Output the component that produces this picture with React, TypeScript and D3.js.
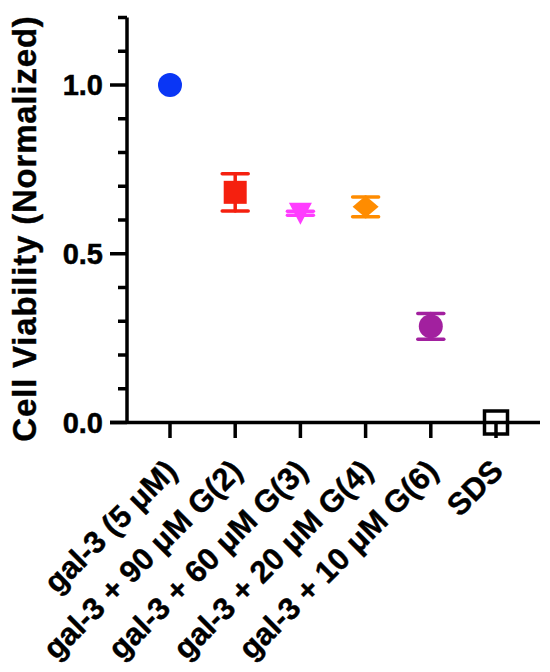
import React from "react";
import * as d3 from "d3";

const categories = [
  "gal-3 (5 μM)",
  "gal-3 + 90 μM G(2)",
  "gal-3 + 60 μM G(3)",
  "gal-3 + 20 μM G(4)",
  "gal-3 + 10 μM G(6)",
  "SDS",
];
const means = [1.0, 0.682, 0.62, 0.639, 0.285, 0.0];
const errors = [0, 0.055, 0.006, 0.029, 0.038, 0];
const shapes = ["circle", "square", "triangleDown", "diamond", "circle", "openSquare"];
const colors = ["#0a36f5", "#f5200f", "#ff3cff", "#ff8c00", "#a2209f", "#000000"];
const yTicks = [0, 0.1, 0.2, 0.3, 0.4, 0.5, 0.6, 0.7, 0.8, 0.9, 1.0, 1.1, 1.2];
const yMajor = [0, 0.5, 1.0];
const yTitle = "Cell Viability (Normalized)";

const FONT = "'Liberation Sans', Arial, Helvetica, sans-serif";

export default function App() {
  const y = d3.scaleLinear().domain([0, 1.2]).range([422.5, 17.5]);
  const x = d3.scalePoint<string>().domain(categories).range([170, 496]);
  const axisX = 127;
  const sw = 3.5;

  const marker = (shape: string, cx: number, cy: number, color: string) => {
    if (shape === "circle") return <circle cx={cx} cy={cy} r={12} fill={color} />;
    if (shape === "square")
      return <rect x={cx - 11.5} y={cy - 11.5} width={23} height={23} fill={color} />;
    if (shape === "triangleDown") {
      const p = d3.path();
      p.moveTo(cx - 11.5, cy - 10.5);
      p.lineTo(cx + 11.5, cy - 10.5);
      p.lineTo(cx, cy + 11.5);
      p.closePath();
      return <path d={p.toString()} fill={color} />;
    }
    if (shape === "diamond") {
      const p = d3.path();
      p.moveTo(cx, cy - 11);
      p.lineTo(cx + 13, cy);
      p.lineTo(cx, cy + 11);
      p.lineTo(cx - 13, cy);
      p.closePath();
      return <path d={p.toString()} fill={color} />;
    }
    return (
      <rect x={cx - 11.5} y={cy - 11.5} width={23} height={23} fill="none" stroke={color} strokeWidth={sw} />
    );
  };

  return (
    <svg
      width={550}
      height={672}
      style={{ position: "absolute", left: 0, top: 0, background: "#fff" }}
      fontFamily={FONT}
    >
      <rect width={550} height={672} fill="#fff" />
      {/* Y axis */}
      <line x1={axisX} x2={axisX} y1={y(1.2)} y2={y(0)} stroke="#000" strokeWidth={sw} />
      {yTicks.map((t) => {
        const major = yMajor.some((m) => Math.abs(m - t) < 1e-9);
        return (
          <line
            key={t}
            x1={major ? 110 : 118}
            x2={axisX}
            y1={y(t)}
            y2={y(t)}
            stroke="#000"
            strokeWidth={sw}
          />
        );
      })}
      {yMajor.map((t) => (
        <text
          key={t}
          x={103}
          y={y(t)}
          dy="0.36em"
          textAnchor="end"
          fontSize={29}
          fontWeight="bold"
          stroke="#000"
          strokeWidth={0.5}
        >
          {d3.format(".1f")(t)}
        </text>
      ))}
      <text
        transform={`translate(36, 228.5) rotate(-90)`}
        textAnchor="middle"
        fontSize={33}
        letterSpacing={0.8}
        fontWeight="bold"
        stroke="#000"
        strokeWidth={0.4}
      >
        {yTitle}
      </text>
      {/* X axis */}
      <line x1={110} x2={540} y1={y(0)} y2={y(0)} stroke="#000" strokeWidth={sw} />
      {categories.map((c) => (
        <line key={c} x1={x(c)!} x2={x(c)!} y1={y(0)} y2={438} stroke="#000" strokeWidth={sw} />
      ))}
      {categories.map((c) => (
        <text
          key={c}
          transform={`translate(${x(c)! + 1}, 465) rotate(-45)`}
          textAnchor="end"
          dy="0.36em"
          fontSize={31}
          fontWeight="bold"
          stroke="#000"
          strokeWidth={0.4}
        >
          {c}
        </text>
      ))}
      {/* Error bars */}
      {categories.map((c, i) =>
        errors[i] > 0 ? (
          <g key={c} stroke={colors[i]} strokeWidth={sw} strokeLinecap="round">
            <line x1={x(c)!} x2={x(c)!} y1={y(means[i] - errors[i])} y2={y(means[i] + errors[i])} />
            <line x1={x(c)! - 13} x2={x(c)! + 13} y1={y(means[i] + errors[i])} y2={y(means[i] + errors[i])} />
            <line x1={x(c)! - 13} x2={x(c)! + 13} y1={y(means[i] - errors[i])} y2={y(means[i] - errors[i])} />
          </g>
        ) : null
      )}
      {/* Markers */}
      {categories.map((c, i) => (
        <g key={c}>{marker(shapes[i], x(c)!, y(means[i]), colors[i])}</g>
      ))}
    </svg>
  );
}
